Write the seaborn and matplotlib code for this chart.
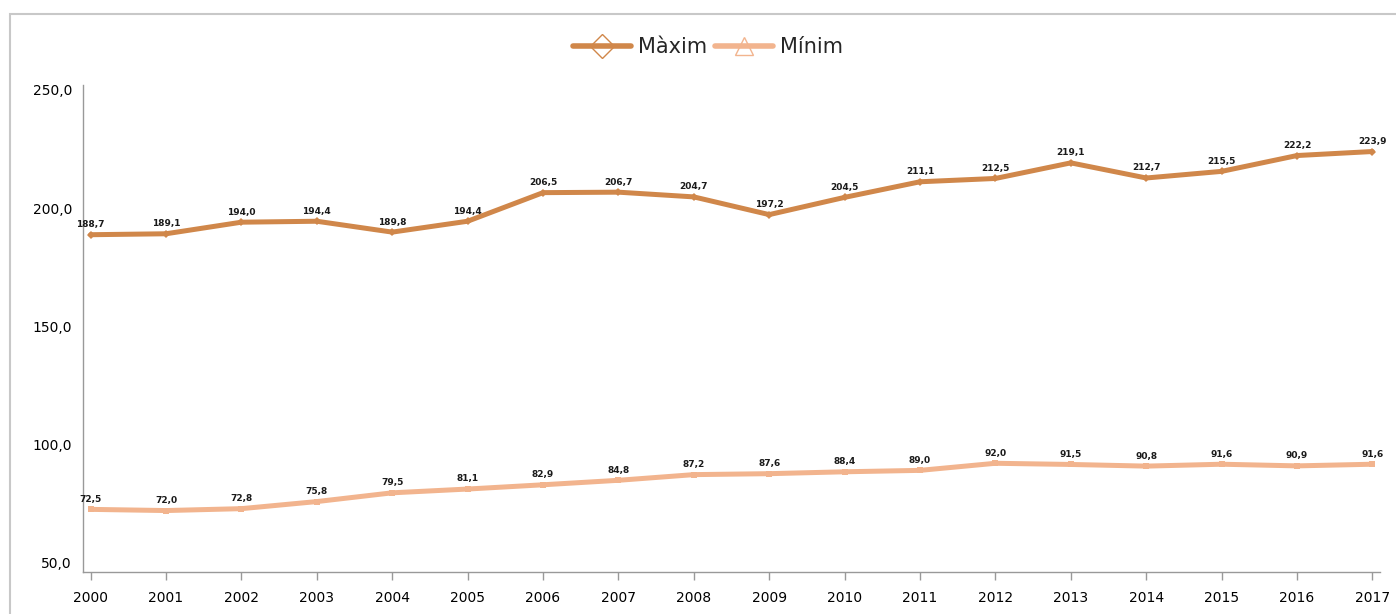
import pandas as pd
import numpy as np
import matplotlib.pyplot as plt
import matplotlib.patches as mpatches
from matplotlib.lines import Line2D
import seaborn as sns

# ---------------------------
# Data
# ---------------------------
years = list(range(2000, 2018))
maxim = [188.7, 189.1, 194.0, 194.4, 189.8, 194.4, 206.5, 206.7, 204.7,
         197.2, 204.5, 211.1, 212.5, 219.1, 212.7, 215.5, 222.2, 223.9]
minim = [72.5, 72.0, 72.8, 75.8, 79.5, 81.1, 82.9, 84.8, 87.2,
         87.6, 88.4, 89.0, 92.0, 91.5, 90.8, 91.6, 90.9, 91.6]
series_names = ['Màxim', 'Mínim']
y_ticks = [50, 100, 150, 200, 250]

df = pd.DataFrame({
    'Any': years * 2,
    'Valor': maxim + minim,
    'Serie': [series_names[0]] * len(years) + [series_names[1]] * len(years),
})

col_max = '#D0874A'
col_min = '#F2B48E'
palette = {series_names[0]: col_max, series_names[1]: col_min}

# ---------------------------
# Plot
# ---------------------------
sns.set_style('white')
plt.rcParams['font.family'] = ['DejaVu Sans']

fig = plt.figure(figsize=(13.96, 6.14), dpi=100)
ax = fig.add_axes([0.0595, 0.0684, 0.929, 0.793])

sns.lineplot(data=df, x='Any', y='Valor', hue='Serie', style='Serie',
             palette=palette, markers={series_names[0]: 'D', series_names[1]: 's'},
             dashes=False, linewidth=3.6, markersize=4, markeredgewidth=0,
             legend=False, ax=ax)

# data labels
for xs, ys in [(years, maxim), (years, minim)]:
    for x, y in zip(xs, ys):
        ax.annotate(f'{y:.1f}'.replace('.', ','), (x, y), xytext=(0, 4),
                    textcoords='offset points', ha='center', va='bottom',
                    fontsize=6.5, fontweight='bold', color='#1a1a1a')

ax.set_xlim(1999.9, 2017.1)
ax.set_ylim(46, 252)
ax.set_xticks(years)
ax.set_xticklabels([str(y) for y in years], fontsize=10, color='#000000')
ax.set_yticks(y_ticks)
ax.set_yticklabels([f'{v:.1f}'.replace('.', ',') for v in y_ticks], fontsize=10,
                   color='#000000')
ax.set_xlabel('')
ax.set_ylabel('')
ax.tick_params(axis='x', direction='out', length=6, width=1, color='#999999', bottom=True, pad=8)
ax.tick_params(axis='y', length=0, pad=8)

for s in ['top', 'right']:
    ax.spines[s].set_visible(False)
for s in ['left', 'bottom']:
    ax.spines[s].set_color('#999999')
    ax.spines[s].set_linewidth(1)

# legend
handles = [
    Line2D([0], [0], color=col_max, lw=4, marker='D', markersize=12,
           markerfacecolor='none', markeredgecolor=col_max, markeredgewidth=1),
    Line2D([0], [0], color=col_min, lw=4, marker='^', markersize=13,
           markerfacecolor='none', markeredgecolor=col_min, markeredgewidth=1),
]
fig.legend(handles, series_names, loc='center', bbox_to_anchor=(0.507, 0.923),
           ncol=2, frameon=False, fontsize=15, handlelength=2.8,
           columnspacing=0.4, handletextpad=0.3)

# outer frame
fig.patches.append(mpatches.Rectangle((0.007, -0.01), 1.0, 0.987, transform=fig.transFigure,
                                      fill=False, edgecolor='#C8C8C8', linewidth=1.5))

plt.savefig('out.png', dpi=100)
